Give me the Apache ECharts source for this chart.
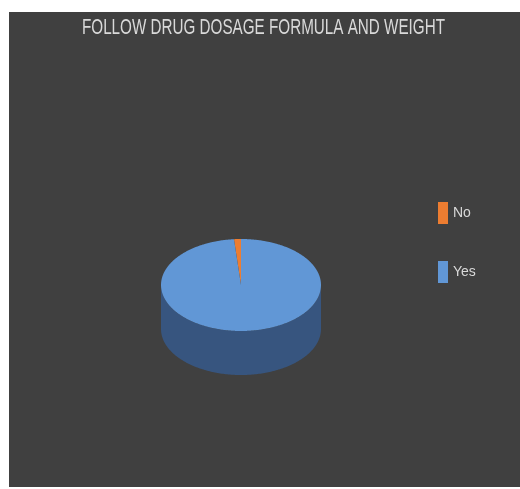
<!DOCTYPE html>
<html>
<head>
<meta charset="utf-8">
<script src="https://cdn.jsdelivr.net/npm/echarts@6/dist/echarts.min.js"></script>
<style>
  html, body { margin: 0; padding: 0; background: #ffffff; width: 520px; height: 489px; overflow: hidden; }
  #chart { position: absolute; left: 9px; top: 12px; width: 511px; height: 475px; }
</style>
</head>
<body>
<div id="chart"></div>
<script>
const titleText = 'FOLLOW DRUG DOSAGE FORMULA AND WEIGHT';
const categories = ['No', 'Yes'];
const values = [1.4, 98.6];
const topColors = ['#ED7D31', '#6197D6'];
const sideColors = ['#9A4E1C', '#37557F'];

const total = values.reduce((a, b) => a + b, 0);
const startDeg = -90;
let acc = 0;
const spans = values.map(v => {
  const hi = startDeg - acc / total * 360;
  acc += v;
  const lo = startDeg - acc / total * 360;
  return [lo, hi];
});

function makeRender(i) {
  return function (params, api) {
    const cx = 232, cy = 273, rx = 80, ry = 46, depth = 44;
    const lo = spans[i][0], hi = spans[i][1];
    const pt = (deg, dy) => [cx + rx * Math.cos(deg * Math.PI / 180), cy + dy + ry * Math.sin(deg * Math.PI / 180)];
    const children = [];
    for (let k = -2; k <= 1; k++) {
      const a = Math.max(lo, k * 360), b = Math.min(hi, k * 360 + 180);
      if (b > a) {
        const pts = [];
        for (let d = a; d <= b; d += 1) pts.push(pt(d, 0));
        pts.push(pt(b, 0));
        for (let d = b; d >= a; d -= 1) pts.push(pt(d, depth));
        pts.push(pt(a, depth));
        children.push({ type: 'polygon', z2: 1, shape: { points: pts }, style: { fill: sideColors[i] } });
      }
    }
    const top = [[cx, cy]];
    for (let d = lo; d <= hi; d += 0.5) top.push(pt(d, 0));
    top.push(pt(hi, 0));
    children.push({ type: 'polygon', z2: 10, shape: { points: top }, style: { fill: topColors[i] } });
    return { type: 'group', children: children };
  };
}

const titleFont = '22px "Liberation Sans", Arial, sans-serif';
const mctx = document.createElement('canvas').getContext('2d');
mctx.font = titleFont;
const titleScale = 363 / mctx.measureText(titleText).width;

const chart = echarts.init(document.getElementById('chart'), null, { renderer: 'canvas' });
chart.setOption({
  backgroundColor: '#404040',
  animation: false,
  graphic: [{
    type: 'text',
    x: 254.5,
    y: 16,
    scaleX: titleScale,
    style: {
      text: titleText,
      fill: '#d9d9d9',
      font: titleFont,
      textAlign: 'center',
      textVerticalAlign: 'middle'
    }
  }],
  legend: {
    orient: 'vertical',
    left: 429,
    top: 190,
    padding: 0,
    itemWidth: 10,
    itemHeight: 22,
    itemGap: 37,
    icon: 'rect',
    data: categories,
    textStyle: { color: '#d9d9d9', fontSize: 14, fontFamily: "'Liberation Sans', Arial, sans-serif" }
  },
  series: categories.map((name, i) => ({
    type: 'custom',
    name: name,
    coordinateSystem: 'none',
    itemStyle: { color: topColors[i] },
    renderItem: makeRender(i),
    data: [{ name: name, value: values[i] }]
  }))
});
</script>
</body>
</html>
